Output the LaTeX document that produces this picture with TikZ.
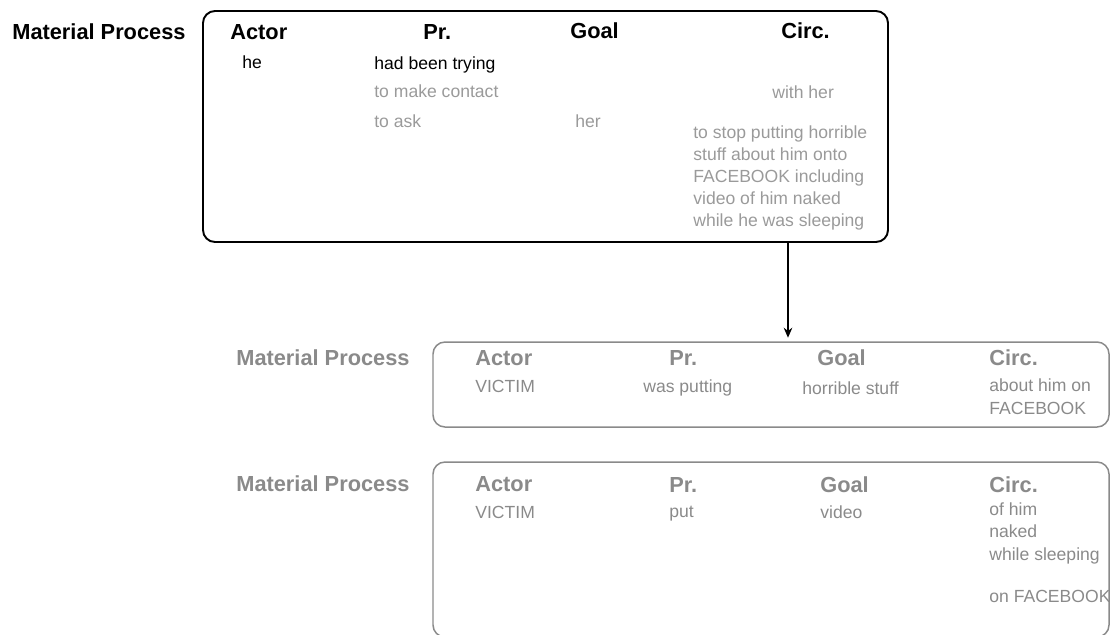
\documentclass[tikz,border=0pt]{standalone}
\usepackage{fontspec}
\setmainfont{Liberation Sans}
\usetikzlibrary{arrows.meta}
\definecolor{faded}{HTML}{9A9A9A}
\definecolor{dimmed}{HTML}{8A8A8A}
\tikzset{
  head/.style={font=\fontsize{12.4}{14}\selectfont\bfseries, anchor=base west, inner sep=0pt},
  cell/.style={font=\fontsize{10}{12.6}\selectfont, anchor=base west, inner sep=0pt, align=left},
  block/.style={cell, anchor=north west},
  clause/.style={draw, rounded corners=2.4mm, inner sep=0pt},
}

\begin{document}
\begin{tikzpicture}[scale=0.2]
\useasboundingbox (0,0) rectangle (111,-63.4);
% clause boxes
\node [clause, black, line width=1.1pt, minimum width=13.7cm, minimum height=4.62cm] (box1) at (54.55,-12.65) {};
\node [clause, dimmed, line width=0.85pt, minimum width=13.52cm, minimum height=1.7cm] (box2) at (77.1,-38.45) {};
\node [clause, dimmed, line width=0.85pt, minimum width=13.52cm, minimum height=3.5cm] (box3) at (77.1,-54.95) {};
\coordinate (drop) at (78.8,0);
\draw [black, line width=1.1pt, -{Stealth[length=2mm,width=1.7mm]}, shorten >=0.7mm] (box1.south -| drop) -- (box2.north -| drop);
% top clause
\node [head] (mp1) at (1.2,-3.9) {Material Process};
\node [head] (actor1) at (23,-3.9) {Actor};
\node [head] (pr1) at (42.3,-3.9) {Pr.};
\node [head] (goal1) at (57,-3.8) {Goal};
\node [head] (circ1) at (78.1,-3.8) {Circ.};
\node [cell] (he) at (24.2,-6.8) {he};
\node [cell] (trying) at (37.4,-6.9) {had been trying};
\node [cell, faded] (contact) at (37.4,-9.7) {to make contact};
\node [cell, faded] (ask) at (37.4,-12.7) {to ask};
\node [cell, faded] (her) at (57.5,-12.7) {her};
\node [cell, faded] (withher) at (77.2,-9.8) {with her};
\node [block, faded, font=\fontsize{10}{12.6}\selectfont] (stop) at (69.3,-12.5) {to stop putting horrible\\stuff about him onto\\FACEBOOK including\\video of him naked\\while he was sleeping};
% second clause
\node [head, dimmed] (mp2) at (23.6,-36.5) {Material Process};
\node [head, dimmed] (actor2) at (47.5,-36.5) {Actor};
\node [head, dimmed] (pr2) at (66.9,-36.5) {Pr.};
\node [head, dimmed] (goal2) at (81.7,-36.5) {Goal};
\node [head, dimmed] (circ2) at (98.9,-36.5) {Circ.};
\node [cell, dimmed] (victim2) at (47.5,-39.2) {VICTIM};
\node [cell, dimmed] (putting) at (64.3,-39.2) {was putting};
\node [cell, dimmed] (stuff) at (80.2,-39.4) {horrible stuff};
\node [block, dimmed, font=\fontsize{10}{13.6}\selectfont] (onfb2) at (98.9,-37.8) {about him on\\FACEBOOK};
% third clause
\node [head, dimmed] (mp3) at (23.6,-49.1) {Material Process};
\node [head, dimmed] (actor3) at (47.5,-49.1) {Actor};
\node [head, dimmed] (pr3) at (66.9,-49.2) {Pr.};
\node [head, dimmed] (goal3) at (82,-49.2) {Goal};
\node [head, dimmed] (circ3) at (98.9,-49.2) {Circ.};
\node [cell, dimmed] (victim3) at (47.5,-51.8) {VICTIM};
\node [cell, dimmed] (put) at (66.9,-51.7) {put};
\node [cell, dimmed] (video) at (82,-51.8) {video};
\node [block, dimmed, font=\fontsize{10}{13}\selectfont] (sleeping) at (98.9,-50.2) {of him\\naked\\while sleeping};
\node [cell, dimmed] (onfb3) at (98.9,-60.2) {on FACEBOOK};
\end{tikzpicture}
\end{document}
